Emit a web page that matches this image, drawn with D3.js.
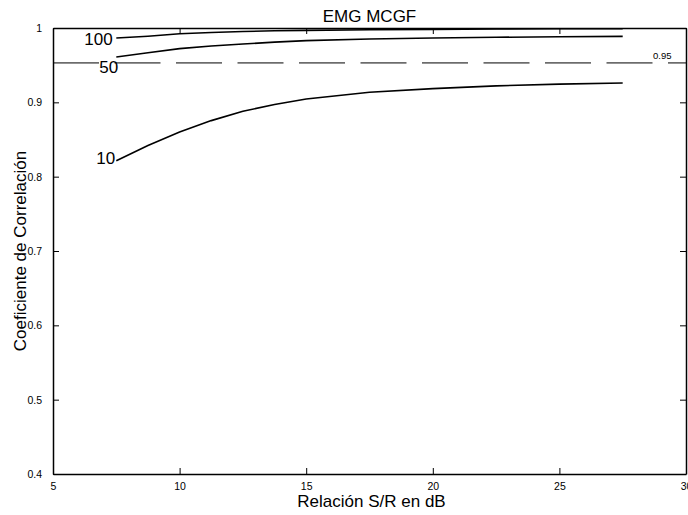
<!DOCTYPE html>
<html>
<head>
<meta charset="utf-8">
<script src="https://cdn.jsdelivr.net/npm/d3@7"></script>
<style>
  html, body { margin: 0; padding: 0; background: #fff; }
  svg { display: block; font-family: "Liberation Sans", Arial, sans-serif; }
</style>
</head>
<body>
<svg id="chart" width="688" height="515"></svg>
<script>
// ---- data ----
const snr = [7.5, 8.75, 10, 11.25, 12.5, 13.75, 15, 17.5, 20, 22.5, 25, 27.5];
const corr100 = [0.9865, 0.989, 0.9923, 0.994, 0.9953, 0.9962, 0.9968, 0.9976, 0.9982, 0.9986, 0.9989, 0.999];
const corr50  = [0.961, 0.9668, 0.9722, 0.9758, 0.9785, 0.981, 0.983, 0.9852, 0.9865, 0.9875, 0.9883, 0.9887];
const corr10  = [0.8215, 0.842, 0.860, 0.8754, 0.888, 0.897, 0.9045, 0.9135, 0.9185, 0.9222, 0.9245, 0.926];
const seriesNames = ["100", "50", "10"];
const threshold = 0.953;
const thresholdLabel = "0.95";
const xTicks = [5, 10, 15, 20, 25, 30];
const yTicks = [0.4, 0.5, 0.6, 0.7, 0.8, 0.9, 1];
const titleText = "EMG MCGF";
const xLabel = "Relación S/R en dB";
const yLabel = "Coeficiente de Correlación";

// ---- layout ----
const svg = d3.select("#chart");
const L = 53, R = 686, T = 28, B = 474;
const x = d3.scaleLinear().domain([5, 30]).range([L, R]);
const y = d3.scaleLinear().domain([0.4, 1]).range([B, T]);

svg.append("rect").attr("width", 688).attr("height", 515).attr("fill", "#fff");

// threshold dashed line
svg.append("line")
  .attr("x1", L).attr("x2", R)
  .attr("y1", y(threshold)).attr("y2", y(threshold))
  .attr("stroke", "#000").attr("stroke-width", 1)
  .attr("stroke-dasharray", "46,15.5");
svg.append("text").attr("x", 653).attr("y", 59)
  .attr("font-size", 9.5).attr("fill", "#000").text(thresholdLabel);

// curves
const line = d3.line().x((d, i) => x(snr[i])).y(d => y(d));
const all = [corr100, corr50, corr10];
all.forEach(s => {
  svg.append("path").datum(s).attr("d", line)
    .attr("fill", "none").attr("stroke", "#000").attr("stroke-width", 1.6);
});

// curve labels
const lblPos = [
  {dx: -32, dy: 7},   // 100
  {dx: -17, dy: 16},  // 50
  {dx: -20, dy: 3}    // 10
];
all.forEach((s, i) => {
  svg.append("text")
    .attr("x", x(snr[0]) + lblPos[i].dx)
    .attr("y", y(s[0]) + lblPos[i].dy)
    .attr("font-size", 17).attr("fill", "#000")
    .text(seriesNames[i]);
});

// axes (box with inward ticks)
const tickLen = 6;
const axB = svg.append("g").attr("transform", `translate(0,${B})`)
  .call(d3.axisBottom(x).tickValues(xTicks).tickSizeInner(-tickLen).tickSizeOuter(0).tickPadding(9).tickFormat(d3.format("d")));
const axT = svg.append("g").attr("transform", `translate(0,${T})`)
  .call(d3.axisTop(x).tickValues(xTicks).tickSizeInner(-tickLen).tickSizeOuter(0).tickFormat(""));
const axL = svg.append("g").attr("transform", `translate(${L},0)`)
  .call(d3.axisLeft(y).tickValues(yTicks).tickSizeInner(-tickLen).tickSizeOuter(0).tickPadding(11).tickFormat(d => d === 1 ? "1" : d3.format(".1f")(d)));
const axR = svg.append("g").attr("transform", `translate(${R},0)`)
  .call(d3.axisRight(y).tickValues(yTicks).tickSizeInner(-tickLen).tickSizeOuter(0).tickFormat(""));

[axB, axT, axL, axR].forEach(a => {
  a.select(".domain").attr("stroke", "#000").attr("stroke-width", 1.5);
  a.selectAll(".tick line").attr("stroke", "#000").attr("stroke-width", 1);
  a.selectAll("text").attr("font-family", "Liberation Sans, Arial, sans-serif")
    .attr("font-size", 10.5).attr("fill", "#000");
});

// titles
svg.append("text").attr("x", (L + R) / 2).attr("y", 22)
  .attr("text-anchor", "middle").attr("font-size", 17).attr("fill", "#000").text(titleText);
svg.append("text").attr("x", (L + R) / 2 + 2).attr("y", 507)
  .attr("text-anchor", "middle").attr("font-size", 17).attr("fill", "#000").text(xLabel);
svg.append("text").attr("transform", `translate(26,${(T + B) / 2}) rotate(-90)`)
  .attr("text-anchor", "middle").attr("font-size", 17).attr("fill", "#000").text(yLabel);
</script>
</body>
</html>
